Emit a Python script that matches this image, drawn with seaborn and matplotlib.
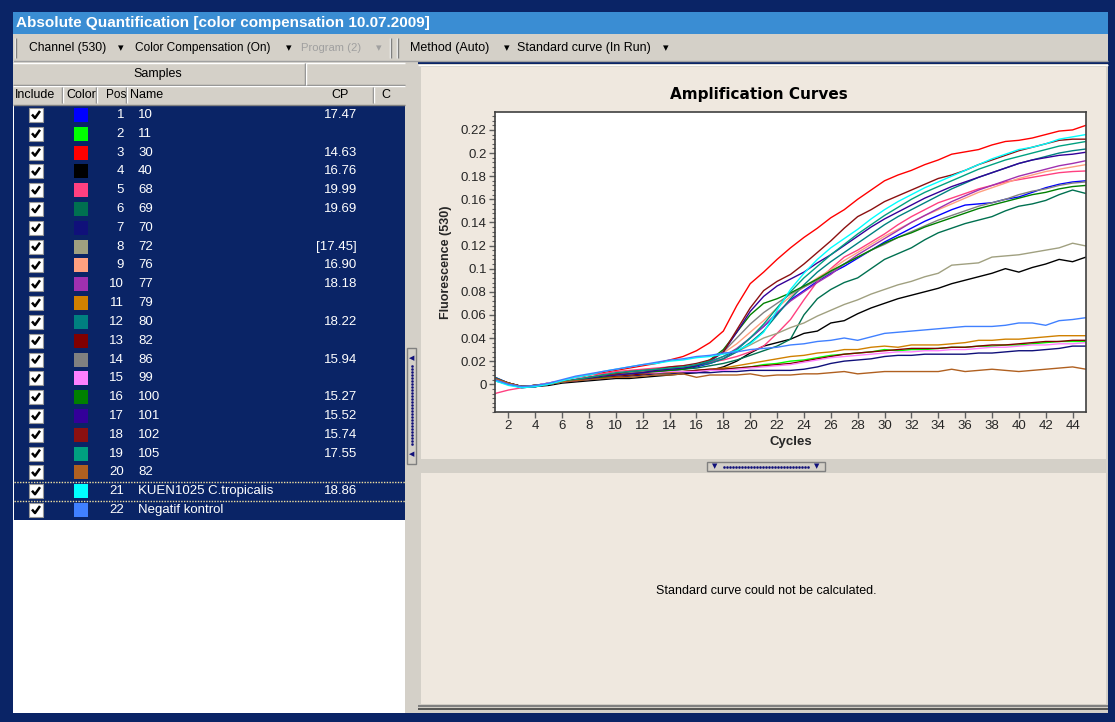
import matplotlib
matplotlib.use("Agg")
import matplotlib.pyplot as plt
from matplotlib.patches import Rectangle
from matplotlib.ticker import AutoMinorLocator, FuncFormatter
import numpy as np
import pandas as pd
import seaborn as sns

# ---------------------------------------------------------------- data
cycles = list(range(1, 46))

positions = list(range(1, 23))
names = ["10", "11", "30", "40", "68", "69", "70", "72", "76", "77", "79",
         "80", "82", "86", "99", "100", "101", "102", "105", "82",
         "KUEN1025 C.tropicalis", "Negatif kontrol"]
cp_labels = ["17.47", "", "14.63", "16.76", "19.99", "19.69", "", "[17.45]",
             "16.90", "18.18", "", "18.22", "", "15.94", "", "15.27", "15.52",
             "15.74", "17.55", "", "18.86", ""]
sample_colors = ["#0000ff", "#00ff00", "#ff0000", "#000000", "#ff4080",
                 "#007050", "#10107a", "#a0a080", "#ffa080", "#a030b0",
                 "#d08000", "#008080", "#800000", "#808080", "#ff80ff",
                 "#008000", "#330099", "#8b1010", "#00a080", "#b06020",
                 "#00ffff", "#4080ff"]

fluor_pos01 = [0.006, 0.001, -0.002, -0.002, 0.000, 0.002, 0.004, 0.005, 0.006, 0.008, 0.009, 0.010, 0.011, 0.012, 0.013,
               0.015, 0.018, 0.022, 0.030, 0.040, 0.050, 0.061, 0.073, 0.081, 0.089, 0.096, 0.102, 0.109, 0.116, 0.123,
               0.129, 0.135, 0.141, 0.146, 0.151, 0.155, 0.156, 0.157, 0.160, 0.162, 0.166, 0.170, 0.173, 0.175, 0.176]
fluor_pos02 = [0.004, 0.000, -0.002, -0.001, 0.001, 0.002, 0.004, 0.005, 0.006, 0.007, 0.008, 0.009, 0.010, 0.010, 0.011,
               0.012, 0.012, 0.013, 0.014, 0.015, 0.017, 0.018, 0.020, 0.021, 0.023, 0.025, 0.026, 0.027, 0.028, 0.030,
               0.029, 0.030, 0.030, 0.031, 0.032, 0.032, 0.033, 0.033, 0.034, 0.034, 0.035, 0.036, 0.037, 0.037, 0.037]
fluor_pos03 = [0.004, 0.000, -0.002, -0.001, 0.001, 0.003, 0.005, 0.008, 0.010, 0.012, 0.014, 0.016, 0.018, 0.021, 0.024,
               0.029, 0.036, 0.046, 0.068, 0.087, 0.097, 0.108, 0.118, 0.127, 0.135, 0.144, 0.151, 0.160, 0.168, 0.176,
               0.181, 0.185, 0.190, 0.194, 0.199, 0.201, 0.203, 0.207, 0.210, 0.211, 0.213, 0.216, 0.219, 0.220, 0.224]
fluor_pos04 = [0.003, 0.000, -0.002, -0.002, -0.001, 0.001, 0.002, 0.003, 0.004, 0.005, 0.005, 0.006, 0.007, 0.008, 0.009,
               0.010, 0.012, 0.015, 0.020, 0.027, 0.033, 0.036, 0.039, 0.044, 0.046, 0.053, 0.055, 0.061, 0.066, 0.070,
               0.074, 0.077, 0.080, 0.083, 0.087, 0.090, 0.093, 0.096, 0.100, 0.097, 0.101, 0.104, 0.108, 0.106, 0.110]
fluor_pos05 = [-0.008, -0.005, -0.003, -0.001, 0.001, 0.003, 0.006, 0.008, 0.009, 0.011, 0.012, 0.013, 0.014, 0.015, 0.016,
               0.017, 0.019, 0.021, 0.024, 0.028, 0.033, 0.044, 0.056, 0.073, 0.089, 0.100, 0.110, 0.116, 0.123, 0.130,
               0.138, 0.145, 0.151, 0.157, 0.161, 0.165, 0.169, 0.172, 0.175, 0.177, 0.179, 0.181, 0.183, 0.184, 0.1845]
fluor_pos06 = [0.004, 0.000, -0.003, -0.002, 0.000, 0.002, 0.004, 0.005, 0.007, 0.008, 0.009, 0.010, 0.011, 0.012, 0.013,
               0.014, 0.016, 0.018, 0.021, 0.025, 0.029, 0.033, 0.039, 0.060, 0.074, 0.082, 0.088, 0.092, 0.100, 0.108,
               0.113, 0.118, 0.125, 0.131, 0.135, 0.139, 0.142, 0.145, 0.150, 0.154, 0.156, 0.159, 0.164, 0.168, 0.165]
fluor_pos07 = [0.004, 0.000, -0.002, -0.001, 0.000, 0.002, 0.003, 0.004, 0.005, 0.006, 0.007, 0.008, 0.009, 0.009, 0.010,
               0.010, 0.010, 0.011, 0.011, 0.012, 0.012, 0.012, 0.012, 0.013, 0.015, 0.018, 0.020, 0.021, 0.022, 0.024,
               0.025, 0.025, 0.026, 0.026, 0.026, 0.026, 0.027, 0.027, 0.028, 0.029, 0.029, 0.030, 0.031, 0.033, 0.033]
fluor_pos08 = [0.005, 0.001, -0.002, -0.001, 0.000, 0.002, 0.004, 0.006, 0.007, 0.009, 0.010, 0.011, 0.012, 0.013, 0.014,
               0.016, 0.019, 0.022, 0.028, 0.034, 0.040, 0.044, 0.049, 0.053, 0.059, 0.064, 0.069, 0.073, 0.078, 0.082,
               0.086, 0.089, 0.093, 0.096, 0.103, 0.104, 0.105, 0.110, 0.111, 0.112, 0.114, 0.116, 0.118, 0.122, 0.1196]
fluor_pos09 = [0.005, 0.001, -0.002, -0.001, 0.001, 0.003, 0.005, 0.006, 0.008, 0.009, 0.010, 0.012, 0.013, 0.014, 0.015,
               0.017, 0.021, 0.027, 0.035, 0.045, 0.055, 0.066, 0.076, 0.084, 0.092, 0.099, 0.107, 0.114, 0.121, 0.128,
               0.134, 0.140, 0.146, 0.151, 0.156, 0.161, 0.166, 0.170, 0.174, 0.178, 0.181, 0.184, 0.186, 0.188, 0.190]
fluor_pos10 = [0.004, 0.000, -0.003, -0.002, 0.000, 0.002, 0.004, 0.006, 0.007, 0.009, 0.010, 0.011, 0.012, 0.013, 0.014,
               0.016, 0.019, 0.024, 0.031, 0.040, 0.050, 0.062, 0.072, 0.080, 0.088, 0.095, 0.104, 0.112, 0.119, 0.126,
               0.133, 0.140, 0.146, 0.152, 0.158, 0.163, 0.168, 0.172, 0.176, 0.180, 0.183, 0.186, 0.189, 0.191, 0.1934]
fluor_pos11 = [0.005, 0.001, -0.002, -0.001, 0.000, 0.002, 0.004, 0.005, 0.006, 0.007, 0.008, 0.009, 0.010, 0.010, 0.011,
               0.012, 0.013, 0.014, 0.016, 0.018, 0.020, 0.022, 0.024, 0.025, 0.027, 0.028, 0.030, 0.030, 0.032, 0.033,
               0.032, 0.034, 0.034, 0.034, 0.035, 0.036, 0.038, 0.038, 0.039, 0.039, 0.040, 0.041, 0.042, 0.042, 0.042]
fluor_pos12 = [0.006, 0.001, -0.002, -0.001, 0.000, 0.002, 0.004, 0.005, 0.007, 0.009, 0.010, 0.011, 0.012, 0.013, 0.014,
               0.016, 0.018, 0.022, 0.028, 0.036, 0.046, 0.060, 0.074, 0.086, 0.097, 0.106, 0.114, 0.122, 0.130, 0.138,
               0.145, 0.151, 0.157, 0.163, 0.169, 0.174, 0.179, 0.183, 0.187, 0.191, 0.194, 0.197, 0.200, 0.202, 0.2035]
fluor_pos13 = [0.005, 0.001, -0.002, -0.001, 0.000, 0.002, 0.003, 0.005, 0.006, 0.007, 0.008, 0.009, 0.010, 0.011, 0.011,
               0.012, 0.013, 0.013, 0.014, 0.015, 0.016, 0.017, 0.018, 0.020, 0.022, 0.024, 0.026, 0.027, 0.028, 0.029,
               0.030, 0.031, 0.031, 0.031, 0.032, 0.032, 0.033, 0.034, 0.034, 0.035, 0.036, 0.037, 0.037, 0.038, 0.038]
fluor_pos14 = [0.005, 0.001, -0.002, -0.001, 0.000, 0.002, 0.004, 0.006, 0.007, 0.008, 0.010, 0.011, 0.012, 0.013, 0.014,
               0.016, 0.020, 0.028, 0.040, 0.052, 0.062, 0.070, 0.078, 0.084, 0.090, 0.097, 0.104, 0.110, 0.116, 0.121,
               0.127, 0.132, 0.137, 0.142, 0.146, 0.150, 0.154, 0.157, 0.160, 0.164, 0.167, 0.169, 0.172, 0.174, 0.175]
fluor_pos15 = [0.003, 0.000, -0.002, -0.001, 0.001, 0.003, 0.005, 0.006, 0.007, 0.008, 0.009, 0.010, 0.010, 0.011, 0.011,
               0.011, 0.012, 0.012, 0.013, 0.014, 0.015, 0.016, 0.017, 0.019, 0.021, 0.023, 0.024, 0.025, 0.026, 0.027,
               0.028, 0.028, 0.029, 0.029, 0.030, 0.030, 0.031, 0.032, 0.032, 0.033, 0.034, 0.034, 0.035, 0.035, 0.036]
fluor_pos16 = [0.005, 0.001, -0.002, -0.001, 0.000, 0.002, 0.004, 0.005, 0.006, 0.008, 0.009, 0.010, 0.011, 0.012, 0.013,
               0.016, 0.021, 0.030, 0.045, 0.060, 0.070, 0.074, 0.079, 0.085, 0.091, 0.098, 0.104, 0.110, 0.116, 0.122,
               0.127, 0.131, 0.136, 0.140, 0.144, 0.148, 0.152, 0.155, 0.158, 0.161, 0.164, 0.166, 0.169, 0.171, 0.172]
fluor_pos17 = [0.005, 0.001, -0.002, -0.002, 0.000, 0.002, 0.003, 0.005, 0.007, 0.008, 0.009, 0.010, 0.012, 0.013, 0.014,
               0.016, 0.020, 0.028, 0.045, 0.063, 0.076, 0.085, 0.091, 0.097, 0.105, 0.112, 0.120, 0.128, 0.136, 0.143,
               0.149, 0.155, 0.161, 0.166, 0.171, 0.175, 0.179, 0.183, 0.187, 0.191, 0.194, 0.196, 0.198, 0.199, 0.2007]
fluor_pos18 = [0.005, 0.001, -0.002, -0.001, 0.000, 0.002, 0.004, 0.006, 0.008, 0.009, 0.011, 0.012, 0.013, 0.015, 0.016,
               0.018, 0.021, 0.028, 0.047, 0.066, 0.081, 0.089, 0.095, 0.104, 0.114, 0.124, 0.135, 0.145, 0.151, 0.158,
               0.163, 0.168, 0.173, 0.178, 0.181, 0.185, 0.190, 0.194, 0.198, 0.202, 0.205, 0.208, 0.211, 0.212, 0.212]
fluor_pos19 = [0.004, 0.000, -0.002, -0.002, 0.000, 0.002, 0.004, 0.006, 0.008, 0.010, 0.011, 0.012, 0.013, 0.014, 0.015,
               0.017, 0.020, 0.024, 0.030, 0.040, 0.052, 0.066, 0.080, 0.092, 0.102, 0.112, 0.121, 0.130, 0.138, 0.146,
               0.153, 0.160, 0.166, 0.171, 0.176, 0.181, 0.186, 0.190, 0.194, 0.197, 0.200, 0.203, 0.206, 0.208, 0.210]
fluor_pos20 = [0.005, 0.001, -0.002, -0.001, 0.000, 0.002, 0.003, 0.004, 0.005, 0.006, 0.006, 0.007, 0.008, 0.008, 0.009,
               0.006, 0.008, 0.008, 0.008, 0.009, 0.007, 0.008, 0.008, 0.009, 0.009, 0.010, 0.011, 0.009, 0.010, 0.011,
               0.011, 0.011, 0.011, 0.011, 0.013, 0.011, 0.012, 0.013, 0.012, 0.011, 0.012, 0.013, 0.014, 0.015, 0.013]
fluor_pos21 = [0.003, -0.001, -0.003, -0.002, 0.000, 0.003, 0.006, 0.008, 0.011, 0.013, 0.015, 0.017, 0.018, 0.020, 0.021,
               0.023, 0.024, 0.026, 0.029, 0.035, 0.045, 0.064, 0.082, 0.096, 0.108, 0.118, 0.126, 0.134, 0.143, 0.151,
               0.158, 0.164, 0.170, 0.175, 0.180, 0.185, 0.190, 0.195, 0.199, 0.203, 0.205, 0.208, 0.212, 0.214, 0.216]
fluor_pos22 = [0.004, 0.000, -0.002, -0.001, 0.001, 0.004, 0.007, 0.009, 0.011, 0.013, 0.015, 0.017, 0.019, 0.021, 0.022,
               0.024, 0.025, 0.027, 0.028, 0.030, 0.031, 0.032, 0.034, 0.035, 0.037, 0.038, 0.040, 0.038, 0.041, 0.044,
               0.045, 0.046, 0.047, 0.048, 0.049, 0.050, 0.050, 0.050, 0.051, 0.053, 0.053, 0.051, 0.055, 0.056, 0.0576]

fluor_series = [fluor_pos01, fluor_pos02, fluor_pos03, fluor_pos04, fluor_pos05, fluor_pos06,
                fluor_pos07, fluor_pos08, fluor_pos09, fluor_pos10, fluor_pos11, fluor_pos12,
                fluor_pos13, fluor_pos14, fluor_pos15, fluor_pos16, fluor_pos17, fluor_pos18,
                fluor_pos19, fluor_pos20, fluor_pos21, fluor_pos22]

y_ticks = [0, 0.02, 0.04, 0.06, 0.08, 0.1, 0.12, 0.14, 0.16, 0.18, 0.2, 0.22]
x_ticks = list(range(2, 46, 2))

toolbar_items = ["Channel (530)", "Color Compensation (On)", "Program (2)",
                 "Method (Auto)", "Standard curve (In Run)"]

# ---------------------------------------------------------------- style
sns.set_style("white")
plt.rcParams["font.family"] = ["Liberation Sans", "DejaVu Sans"]

NAVY = "#0a2466"
FACE = "#d4d0c8"
BEIGE = "#efe8df"
TITLE_BLUE = "#3a8dd3"

W, H = 1115, 722
fig = plt.figure(figsize=(W / 100, H / 100), dpi=100)
fig.patch.set_facecolor(NAVY)

# window chrome, drawn in pixel coordinates
ui = fig.add_axes([0, 0, 1, 1], zorder=0)
ui.set_xlim(0, W)
ui.set_ylim(H, 0)
ui.axis("off")


def box(x0, y0, x1, y1, fc, ec="none", lw=0.0, z=1):
    ui.add_patch(Rectangle((x0, y0), x1 - x0, y1 - y0, facecolor=fc,
                           edgecolor=ec, linewidth=lw, zorder=z))


def hline(x0, x1, y, c, lw=1.0, z=3, ls="-"):
    ui.plot([x0, x1], [y, y], color=c, lw=lw, zorder=z, ls=ls,
            solid_capstyle="butt")


def vline(x, y0, y1, c, lw=1.0, z=3):
    ui.plot([x, x], [y0, y1], color=c, lw=lw, zorder=z, solid_capstyle="butt")


def label(x, y, s, size=9, color="black", ha="left", weight="normal", z=5, **kw):
    return ui.text(x, y, s, fontsize=size, color=color, ha=ha, va="center",
                   fontweight=weight, zorder=z, **kw)


# title bar
box(13, 12, 1108, 34, TITLE_BLUE)
label(16, 23, "Absolute Quantification [color compensation 10.07.2009]",
      size=11, color="white", weight="bold")

# toolbar
box(13, 34, 1108, 61, FACE)
hline(13, 1108, 60.5, "#a0a0a0")
vline(15, 38, 58, "#ffffff")
vline(16, 38, 58, "#808080")
tb_x = [29, 135, 301, 410, 517]
tb_width = [77, 136, 60, 80, 135]
tb_arrow_x = [118, 286, 376, 504, 663]
tb_color = ["black", "black", "#a0a0a0", "black", "black"]
fig.canvas.draw()
for s, x, w, ax_, c in zip(toolbar_items, tb_x, tb_width, tb_arrow_x, tb_color):
    t = label(x, 48, s, size=9, color=c)
    # squeeze long captions into the width of their toolbar button
    bb = t.get_window_extent(renderer=fig.canvas.get_renderer())
    if bb.width > w + 2:
        t.set_fontsize(9 * w / bb.width)
    label(ax_, 48, "▾", size=8, color=c, family="DejaVu Sans")
for x in (390, 397):
    vline(x, 38, 58, "#ffffff")
    vline(x + 1, 38, 58, "#808080")

# left sample list
box(13, 61, 405, 713, "white")
box(13, 62, 405, 105, FACE)
hline(13, 405, 63, "white")
hline(13, 405, 85, "#808080")
hline(13, 405, 86, "white")
hline(13, 405, 104.5, "#808080")
vline(305, 63, 85, "#808080")
vline(306, 63, 85, "white")
label(158, 74, "Samples", ha="center")
for x in (62, 96, 126, 373):
    vline(x, 87, 103, "#808080")
    vline(x + 1, 87, 103, "white")
label(15, 95, "Include")
label(66, 95, "Color")
label(106, 95, "Pos", size=8.5)
label(130, 95, "Name")
label(340, 95, "CP", ha="center")
label(381, 95, "C")

row0, row_h = 115.0, 18.81
box(14, 105, 405, 520, NAVY)
for i in range(len(positions)):
    yc = row0 + i * row_h
    box(29, yc - 7, 43, yc + 7, "white", ec="#9a9a9a", lw=0.8, z=4)
    ui.plot([32, 35, 40], [yc - 0.5, yc + 3, yc - 4], color="black", lw=1.8,
            zorder=5, solid_capstyle="butt")
    box(74, yc - 7, 88, yc + 7, sample_colors[i], z=4)
    label(124, yc, str(positions[i]), color="white", ha="right", size=9.5)
    label(138, yc, names[i], color="white", size=9.5)
    if cp_labels[i]:
        label(357, yc, cp_labels[i], color="white", ha="right", size=9.5)
# focus rectangle around row 21
for yy in (row0 + 19.5 * row_h, row0 + 20.5 * row_h):
    hline(14, 405, yy, "#f0e0a0", lw=1, ls=(0, (1, 1)), z=6)

# splitter
box(405, 61, 418, 713, FACE)
box(407, 348, 416, 464, FACE, ec="#808080", lw=1, z=3)
label(411.5, 358, "◀", size=5, color="#10107a", ha="center", family="DejaVu Sans")
label(411.5, 454, "◀", size=5, color="#10107a", ha="center", family="DejaVu Sans")
for yy in np.arange(366, 447, 3):
    ui.plot([411.5], [yy], marker="s", ms=0.8, color="#10107a", zorder=5)

# right panels
box(418, 64, 1108, 713, FACE)
box(421, 67, 1106, 459, BEIGE)
box(421, 473, 1106, 704, BEIGE)
hline(418, 1108, 65, "white")
hline(418, 1108, 706, "#808080", lw=1.5)
hline(418, 1108, 709, "#404040", lw=1.2)
box(707, 462, 825, 471, FACE, ec="#808080", lw=1, z=3)
label(715, 466.5, "▼", size=5, color="#10107a", ha="center", family="DejaVu Sans")
label(817, 466.5, "▼", size=5, color="#10107a", ha="center", family="DejaVu Sans")
for xx in np.arange(724, 810, 3):
    ui.plot([xx], [466.5], marker="s", ms=0.8, color="#10107a", zorder=5)
label(766, 591, "Standard curve could not be calculated.", ha="center", size=9)
label(759, 94, "Amplification Curves", ha="center", size=11, weight="heavy",
      family="DejaVu Sans")

# ---------------------------------------------------------------- chart
frames = []
for pos, vals in zip(positions, fluor_series):
    frames.append(pd.DataFrame({"Cycle": cycles, "Fluorescence": vals, "Pos": pos}))
df = pd.concat(frames, ignore_index=True)
palette = dict(zip(positions, sample_colors))

ax = fig.add_axes([495 / W, 1 - 412 / H, (1086 - 495) / W, (412 - 112) / H], zorder=2)
ax.set_facecolor("white")
sns.lineplot(data=df, x="Cycle", y="Fluorescence", hue="Pos", hue_order=positions,
             palette=palette, linewidth=1.0, legend=False, ax=ax, estimator=None,
             sort=True)
ax.set_xlim(1, 45)
ax.set_ylim(-0.024, 0.2355)
ax.set_xticks(x_ticks)
ax.set_yticks(y_ticks)
ax.yaxis.set_minor_locator(AutoMinorLocator(5))
ax.yaxis.set_major_formatter(FuncFormatter(lambda v, p: "%g" % round(v, 3)))
ax.tick_params(axis="both", which="major", direction="out", length=4, width=1,
               color="#606060", labelsize=9.5, pad=2, left=True, bottom=True)
ax.tick_params(axis="y", which="minor", direction="out", length=2, width=0.8,
               color="#606060", left=True)
for s in ax.spines.values():
    s.set_color("#404040")
    s.set_linewidth(1.2)
ax.set_xlabel("Cycles", fontsize=9.5, fontweight="bold", labelpad=3)
ax.set_ylabel("Fluorescence (530)", fontsize=9, fontweight="bold", labelpad=6)

fig.savefig("out.png", dpi=100, facecolor=fig.get_facecolor())
